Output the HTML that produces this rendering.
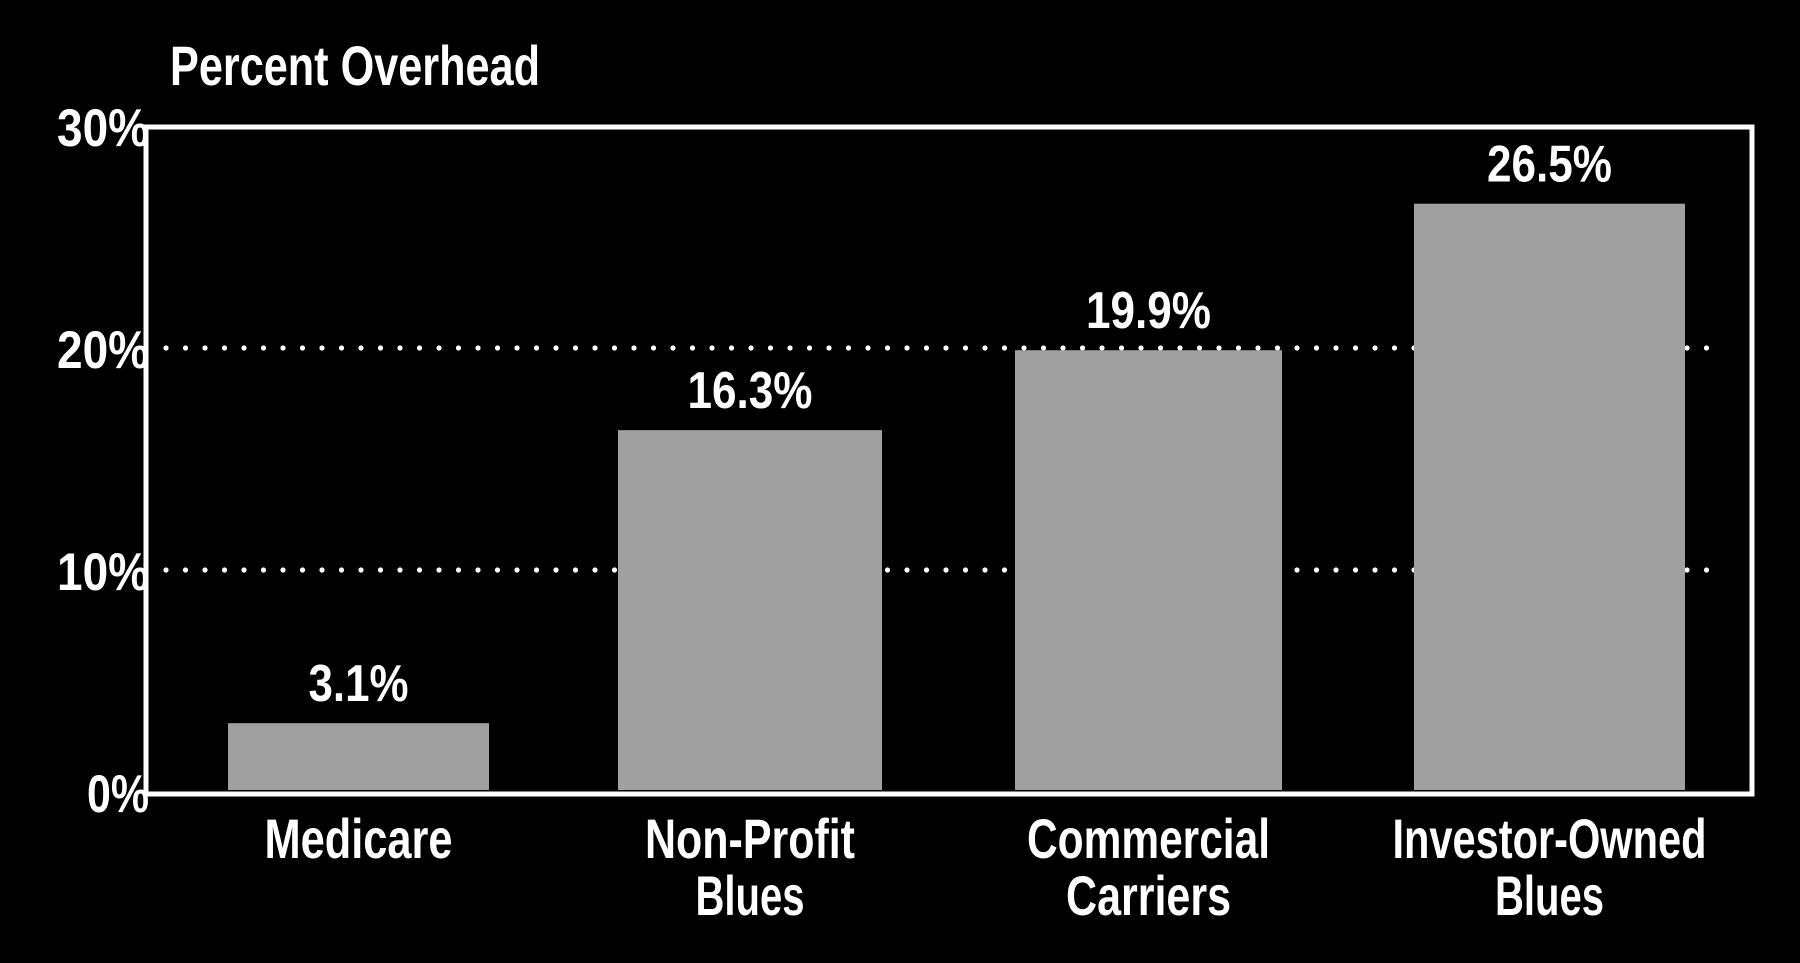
<!DOCTYPE html>
<html><head><meta charset="utf-8"><style>
html,body{margin:0;padding:0;background:#000;}
svg{display:block;}
text{font-family:"Liberation Sans Narrow","Liberation Sans",sans-serif;font-weight:bold;fill:#fff;}
</style></head><body>
<svg id="chart" width="1800" height="963" viewBox="0 0 1800 963">
<rect x="0" y="0" width="1800" height="963" fill="#000"/>
<text x="170" y="85" font-size="56" textLength="370" lengthAdjust="spacingAndGlyphs">Percent Overhead</text>
<g id="grid"></g>
<g id="bars"></g>
<rect x="146" y="127" width="1606" height="667" fill="none" stroke="#fff" stroke-width="5"/>
<g id="yticks"></g>
<g id="xlabels"></g>
</svg>
<script>
const categories = [["Medicare"],["Non-Profit","Blues"],["Commercial","Carriers"],["Investor-Owned","Blues"]];
const values = [3.1, 16.3, 19.9, 26.5];
const valueLabels = ["3.1%","16.3%","19.9%","26.5%"];
const yTicks = [0,10,20,30];
const yTickLabels = ["0%","10%","20%","30%"];
const gridTicks = [10,20];

const NS="http://www.w3.org/2000/svg";
const y0=792, yPer=22.2;
function yScale(v){return y0 - v*yPer;}
const barLefts=[228,618,1015,1414], barWidths=[261,264,267,271];
function xBand(i){return {x:barLefts[i], w:barWidths[i]};}
const labelW={"Medicare":188,"Non-Profit":210,"Blues":109,"Commercial":243,"Carriers":165,"Investor-Owned":314};

const grid=document.getElementById('grid');
gridTicks.forEach(t=>{
  const y=yScale(t);
  for(let x=166;x<=1725;x+=19.5){
    const c=document.createElementNS(NS,'circle');
    
    
    c.setAttribute('cx',x);c.setAttribute('cy',y);c.setAttribute('r',2.6);c.setAttribute('fill','#fff');
    grid.appendChild(c);
  }
});
const bars=document.getElementById('bars');
values.forEach((v,i)=>{
  const b=xBand(i);
  const r=document.createElementNS(NS,'rect');
  
  
  r.setAttribute('x',b.x);r.setAttribute('y',yScale(v));r.setAttribute('width',b.w);r.setAttribute('height',y0-2-yScale(v));
  r.setAttribute('fill','#a0a0a0');
  bars.appendChild(r);
  const t=document.createElementNS(NS,'text');
  
  
  t.setAttribute('x',b.x+b.w/2);t.setAttribute('y',yScale(v)-22);
  t.setAttribute('text-anchor','middle');t.setAttribute('font-size','52');
  t.setAttribute('textLength',valueLabels[i].length*25);t.setAttribute('lengthAdjust','spacingAndGlyphs');
  t.textContent=valueLabels[i];
  bars.appendChild(t);
});
const yt=document.getElementById('yticks');
yTicks.forEach((v,i)=>{
  const t=document.createElementNS(NS,'text');
  
  
  t.setAttribute('x',149);t.setAttribute('y',yScale(v)+20);
  t.setAttribute('text-anchor','end');t.setAttribute('font-size','53');
  t.setAttribute('textLength',yTickLabels[i].length===2?62:92);t.setAttribute('lengthAdjust','spacingAndGlyphs');
  t.textContent=yTickLabels[i];
  yt.appendChild(t);
});
const xl=document.getElementById('xlabels');
categories.forEach((lines,i)=>{
  const b=xBand(i);
  lines.forEach((s,j)=>{
    const t=document.createElementNS(NS,'text');
    
    
    t.setAttribute('x',b.x+b.w/2);t.setAttribute('y',858+j*57);
    t.setAttribute('text-anchor','middle');t.setAttribute('font-size','56');
    t.setAttribute('textLength',labelW[s]||s.length*22);t.setAttribute('lengthAdjust','spacingAndGlyphs');
    t.textContent=s;
    xl.appendChild(t);
  });
});
</script>
</body></html>
